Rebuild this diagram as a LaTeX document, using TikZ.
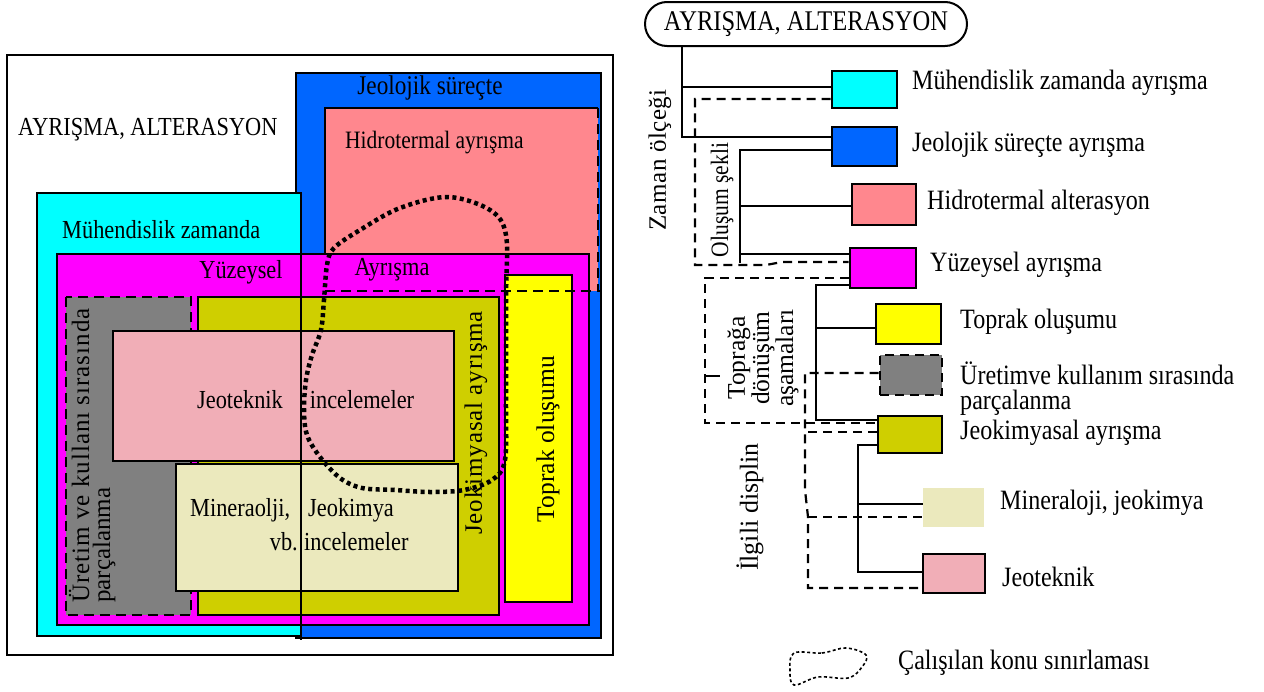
\documentclass[tikz,border=0pt]{standalone}
\usepackage{fontspec}
\setmainfont{Liberation Serif}[FakeStretch=0.86]
\newfontfamily\rotf{Liberation Serif}
\newcommand\myfs[1]{\fontsize{#1}{#1}\selectfont}
\definecolor{cBlue}{HTML}{0066FF}
\definecolor{cCyan}{HTML}{00FFFF}
\definecolor{cSalmon}{HTML}{FF878E}
\definecolor{cMag}{HTML}{FF00FF}
\definecolor{cYel}{HTML}{FFFF00}
\definecolor{cGray}{HTML}{808080}
\definecolor{cOlive}{HTML}{CFCF00}
\definecolor{cPink}{HTML}{F1AEB7}
\definecolor{cBeige}{HTML}{EBE9BD}
\tikzset{
  lbox/.style={draw=black, line width=2.6pt},
  ldash/.style={line width=2.6pt, dash pattern=on 10pt off 6pt},
  study/.style={line width=4.5pt, dash pattern=on 4pt off 3.5pt},
  lbl/.style={inner sep=0pt, font=\myfs{26}},
  rlbl/.style={inner sep=0pt, anchor=west, font=\myfs{28}},
  vlbl/.style={inner sep=0pt, rotate=90, font=\rotf\myfs{25}},
  rbox/.style={draw=black, line width=2.6pt, inner sep=0pt},
  conn/.style={line width=2.2pt},
  dconn/.style={line width=2.2pt, dash pattern=on 9pt off 6pt},
}
\begin{document}
\begin{tikzpicture}[x=1pt,y=-1pt]
\useasboundingbox (0,0) rectangle (1264,691);
% ---------------- left diagram ----------------
\draw[line width=1.4pt] (7,55) rectangle (613,655);
\draw[lbox, fill=cBlue] (296,73) rectangle (601,638);
\fill[cSalmon] (325,108) rectangle (598,291);
\draw[lbox] (325,291) -- (325,108) -- (598,108);
\draw[ldash] (598,108) -- (598,291);
\draw[lbox, fill=cCyan] (37,193) rectangle (301,636);
\draw[lbox, fill=cMag] (57,254) rectangle (589,625);
\draw[lbox, fill=cYel] (505,275) rectangle (572,602);
\fill[cGray] (66,297) rectangle (191,615);
\draw[ldash] (66,297) rectangle (191,615);
\draw[lbox, fill=cOlive] (198,297) rectangle (499,615);
\draw[lbox, fill=cPink] (113,331) rectangle (454,461);
\draw[lbox, fill=cBeige] (176,464) rectangle (458,591);
\draw[ldash] (325,291) -- (601,291);
\draw[line width=1.6pt] (301,193) -- (301,640);
\draw[study] plot[smooth cycle, tension=0.55] coordinates {(324,300) (327,265) (334,248) (360,230) (400,208) (448,197) (490,210) (506,235) (506,300) (506,400) (505,460) (492,480) (464,490) (430,492) (395,490) (362,488) (340,478) (320,457) (307,435) (304,410) (306,380) (312,355) (321,330)};

\node[lbl, anchor=west] (tAyr) at (18,130) {AYRIŞMA, ALTERASYON};
\node[lbl, font=\myfs{27}] (tJeo) at (430,88) {Jeolojik süreçte};
\node[lbl, anchor=west, font=\myfs{25}] (tHid) at (345,143) {Hidrotermal ayrışma};
\node[lbl, anchor=west] (tMuh) at (62,230) {Mühendislik zamanda};
\node[lbl] (tYuz) at (241,272) {Yüzeysel};
\node[lbl] (tAyr2) at (392,270) {Ayrışma};
\node[lbl] (tJt) at (240,400) {Jeoteknik};
\node[lbl] (tInc) at (362,400) {incelemeler};
\node[lbl, anchor=west] (tMin) at (190,510) {Mineraolji,};
\node[lbl, anchor=west] (tJk) at (308,510) {Jeokimya};
\node[lbl, anchor=east] (tVb) at (298,542) {vb.};
\node[lbl, anchor=west] (tInc2) at (304,542) {incelemeler};
\node[vlbl, anchor=west, font=\rotf\myfs{25}\addfontfeature{LetterSpace=4}] (tUr) at (79,603) {Üretim ve kullanı sırasında};
\node[vlbl, anchor=west] (tPar) at (104,603) {parçalanma};
\node[vlbl, anchor=west, font=\rotf\myfs{25}\addfontfeature{LetterSpace=3.5}] (tJka) at (476,535) {Jeokimyasal ayrışma};
\node[vlbl, font=\rotf\myfs{25.5}] (tTop) at (548,439) {Toprak oluşumu};

% ---------------- right diagram ----------------
\node[draw=black, line width=2pt, rounded corners=22pt, minimum width=322pt, minimum height=44pt, inner sep=0pt, font=\myfs{28.5}] (root) at (806,24) {AYRIŞMA, ALTERASYON};
\node[rbox, fill=cCyan, minimum width=65pt, minimum height=37pt] (c1) at (864.5,89.5) {};
\node[rbox, fill=cBlue, minimum width=65pt, minimum height=39pt] (c2) at (864.5,146.5) {};
\node[rbox, fill=cSalmon, minimum width=64pt, minimum height=41pt] (c3) at (884,204.5) {};
\node[rbox, fill=cMag, minimum width=66pt, minimum height=40pt] (c4) at (883,268) {};
\node[rbox, fill=cYel, minimum width=65pt, minimum height=40pt] (c5) at (908.5,324) {};
\node[rbox, fill=cGray, dash pattern=on 9pt off 6pt, minimum width=62pt, minimum height=40pt] (c6) at (911,375) {};
\node[fill=cBeige, inner sep=0pt, minimum width=61pt, minimum height=39pt] (c8) at (953.5,507.5) {};
\node[rbox, fill=cOlive, minimum width=64pt, minimum height=37pt] (c7) at (910,434.5) {};
\node[rbox, fill=cPink, minimum width=62pt, minimum height=39pt] (c9) at (954,573.5) {};

\node[rlbl] (l1) at (912,83) {Mühendislik zamanda ayrışma};
\node[rlbl] (l2) at (912,145) {Jeolojik süreçte ayrışma};
\node[rlbl] (l3) at (927,203) {Hidrotermal alterasyon};
\node[rlbl] (l4) at (930,265) {Yüzeysel ayrışma};
\node[rlbl] (l5) at (960,322) {Toprak oluşumu};
\node[rlbl] (l6) at (960,373) {Üretimve kullanım sırasında};
\node[rlbl] (l6b) at (960,403) {parçalanma};
\node[rlbl] (l7) at (960,433) {Jeokimyasal ayrışma};
\node[rlbl] (l8) at (1000,503) {Mineraloji, jeokimya};
\node[rlbl] (l9) at (1002,577) {Jeoteknik};

\node[vlbl, font=\rotf\myfs{25}\addfontfeature{LetterSpace=2}] (tZam) at (660,160) {Zaman ölçeği};
\node[vlbl, font=\myfs{25}] (tOlu) at (722,200) {Oluşum şekli};
\node[vlbl, align=center, font=\rotf\fontsize{25.5}{23}\selectfont] (tTopr) at (763,358) {Toprağa\\dönüşüm\\aşamaları};
\node[vlbl, font=\rotf\myfs{26}] (tIlg) at (750,507) {İlgili displin};

% connectors
\coordinate (a1) at (682,87);
\coordinate (a2) at (682,137);
\draw[conn] (root.south -| a1) -- (a2) -- (c2.west |- a2);
\draw[conn] (a1) -- (c1.west |- a1);
\coordinate (b0) at (740,150);
\coordinate (b1) at (740,206);
\coordinate (b2) at (740,254);
\coordinate (b3) at (740,263);
\draw[conn] (c2.west |- b0) -- (b0) -- (b3);
\draw[conn] (b1) -- (c3.west |- b1);
\draw[conn] (b2) -- (c4.west |- b2);
\coordinate (d0) at (695,99);
\coordinate (d1) at (695,265);
\coordinate (d2) at (766,265);
\coordinate (d3) at (782,262);
\draw[dconn] (c1.west |- d0) -- (d0) -- (d1) -- (d2) -- (d3) -- (c4.west |- d3);
\coordinate (e0) at (705,278);
\coordinate (e1) at (705,423);
\coordinate (e2) at (705,376);
\coordinate (e3) at (720,376);
\draw[dconn] (c4.west |- e0) -- (e0) -- (e1) -- (c7.west |- e1);
\draw[conn] (e2) -- (e3);
\coordinate (f0) at (816,285);
\coordinate (f1) at (816,420);
\coordinate (f2) at (816,328);
\draw[conn] (c4.west |- f0) -- (f0) -- (f1) -- (c7.west |- f1);
\draw[conn] (f2) -- (c5.west |- f2);
\coordinate (g0) at (805,373);
\coordinate (g1) at (805,490);
\coordinate (g2) at (808,517);
\coordinate (g3) at (808,588);
\coordinate (g4) at (806,432);
\draw[dconn] (c6.west |- g0) -- (g0) -- (g1) -- (g2) -- (g3) -- (c9.west |- g3);
\draw[dconn] (g2) -- (c8.west |- g2);
\draw[dconn] (c7.west |- g4) -- (g4);
\coordinate (h0) at (858,445);
\coordinate (h1) at (858,504);
\coordinate (h2) at (858,572);
\draw[conn] (c7.west |- h0) -- (h0) -- (h2) -- (c9.west |- h2);
\draw[conn] (h1) -- (c8.west |- h1);

% legend
\draw[line width=1.6pt, dash pattern=on 3pt off 2.5pt] plot[smooth cycle, tension=0.6] coordinates {(794,653) (822,653) (846,648) (866,655) (862,667) (848,678) (818,677) (794,685) (790,670)} ;
\node[rlbl] (leg) at (898,663) {Çalışılan konu sınırlaması};
\end{tikzpicture}
\end{document}
